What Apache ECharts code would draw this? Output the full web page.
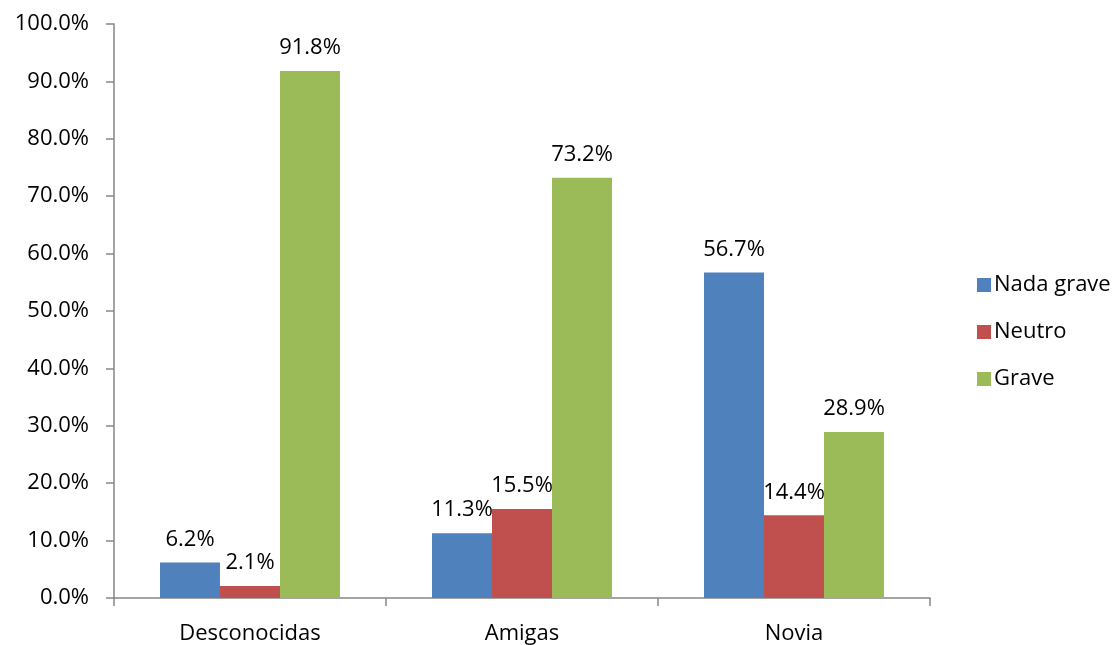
<!DOCTYPE html>
<html>
<head>
<meta charset="utf-8">
<script src="https://cdn.jsdelivr.net/npm/echarts@6/dist/echarts.min.js"></script>
<style>
  html, body { margin: 0; padding: 0; background: #fff; }
  #chart { width: 1117px; height: 645px; }
</style>
</head>
<body>
<div id="chart"></div>
<script>
// Categories and series values (percent)
const categories = ['Desconocidas', 'Amigas', 'Novia'];
const nadaGrave = [6.2, 11.3, 56.7];
const neutro = [2.1, 15.5, 14.4];
const grave = [91.8, 73.2, 28.9];
const seriesNames = ['Nada grave', 'Neutro', 'Grave'];

const FONT = '"Open Sans", "Noto Sans", sans-serif';
const axisGray = '#868686';

const chart = echarts.init(document.getElementById('chart'), null, { renderer: 'canvas' });

function barSeries(name, data, color) {
  return {
    name: name,
    type: 'bar',
    data: data,
    barWidth: 60,
    barGap: '0%',
    itemStyle: { color: color },
    label: {
      show: true,
      position: 'top',
      distance: 12,
      color: '#000',
      fontFamily: FONT,
      fontSize: 22,
      formatter: p => p.value.toFixed(1) + '%'
    }
  };
}

chart.setOption({
  animation: false,
  textStyle: { fontFamily: FONT },
  grid: { left: 114, right: 187, top: 24, bottom: 46, containLabel: false },
  legend: {
    orient: 'vertical',
    left: 972,
    top: 269,
    itemWidth: 14,
    itemHeight: 14,
    itemGap: 25,
    icon: 'rect',
    textStyle: { fontFamily: FONT, fontSize: 22, color: '#000', padding: [0, 0, 0, -2] },
    data: seriesNames
  },
  xAxis: {
    type: 'category',
    data: categories,
    axisLine: { lineStyle: { color: axisGray, width: 1.5 } },
    axisTick: { show: true, length: 8, lineStyle: { color: axisGray, width: 1.5 } },
    axisLabel: { color: '#000', fontFamily: FONT, fontSize: 22, margin: 25 }
  },
  yAxis: {
    type: 'value',
    min: 0,
    max: 100,
    interval: 10,
    splitLine: { show: false },
    axisLine: { show: true, lineStyle: { color: axisGray, width: 1.5 } },
    axisTick: { show: true, length: 8, lineStyle: { color: axisGray, width: 1.5 } },
    axisLabel: {
      color: '#000', fontFamily: FONT, fontSize: 22, margin: 25,
      formatter: v => v.toFixed(1) + '%'
    }
  },
  series: [
    barSeries(seriesNames[0], nadaGrave, '#4F81BD'),
    barSeries(seriesNames[1], neutro, '#C0504D'),
    barSeries(seriesNames[2], grave, '#9BBB59')
  ]
});
</script>
</body>
</html>
